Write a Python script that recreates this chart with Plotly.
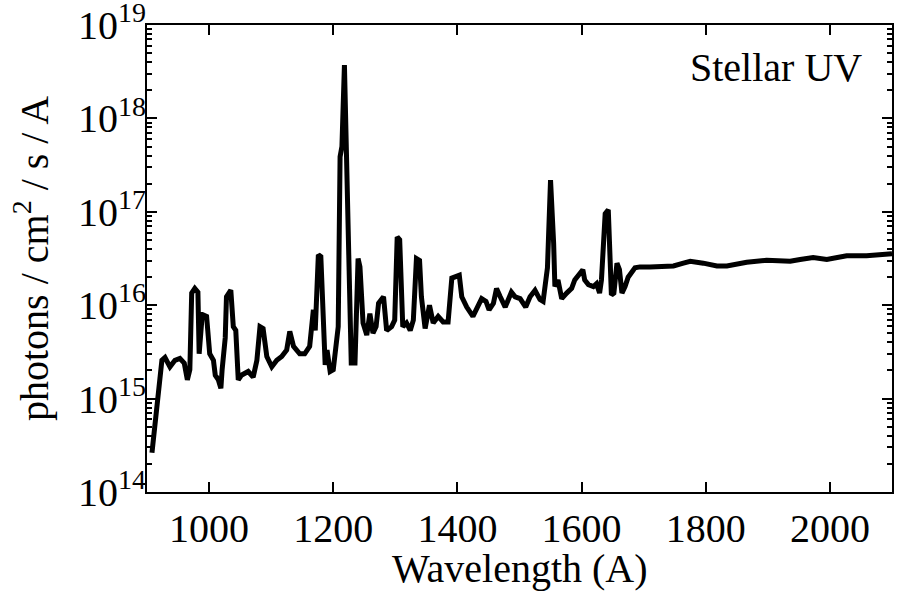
import plotly.graph_objects as go

wavelength = [908, 918, 924, 929, 937, 945, 953, 960, 965, 969, 972, 977, 982, 984, 989, 996,
              1001, 1007, 1010, 1015, 1019, 1021, 1026, 1028, 1035, 1039, 1043, 1047, 1052, 1063,
              1071, 1077, 1082, 1087, 1093, 1101, 1109, 1117, 1125, 1130, 1136, 1146, 1154, 1162,
              1168, 1171, 1176, 1180, 1184, 1187, 1190, 1195, 1200, 1204, 1208, 1211, 1214, 1218,
              1221, 1226, 1229, 1235, 1238, 1240, 1243, 1248, 1254, 1259, 1264, 1269, 1273, 1281,
              1286, 1294, 1299, 1303, 1307, 1312, 1318, 1324, 1329, 1334, 1339, 1342, 1348, 1355,
              1361, 1369, 1377, 1385, 1391, 1399, 1403, 1407, 1415, 1425, 1431, 1439, 1446, 1451,
              1458, 1463, 1469, 1477, 1487, 1493, 1501, 1510, 1517, 1525, 1533, 1538, 1545, 1550,
              1555, 1557, 1562, 1568, 1576, 1584, 1589, 1596, 1602, 1605, 1611, 1619, 1624, 1629,
              1632, 1638, 1643, 1646, 1648, 1652, 1657, 1661, 1665, 1670, 1675, 1686, 1694, 1710,
              1726, 1748, 1764, 1775, 1796, 1818, 1834, 1866, 1898, 1936, 1952, 1973, 1995, 2027,
              2059, 2092, 2100]
log_flux = [14.42, 15.02, 15.41, 15.44, 15.34, 15.41, 15.43, 15.38, 15.20, 15.31, 16.13, 16.18,
            16.14, 15.48, 15.90, 15.88, 15.48, 15.41, 15.25, 15.20, 15.11, 15.31, 15.65, 16.09,
            16.16, 15.77, 15.73, 15.20, 15.25, 15.29, 15.23, 15.41, 15.77, 15.75, 15.45, 15.34,
            15.41, 15.45, 15.52, 15.72, 15.56, 15.48, 15.48, 15.56, 15.95, 15.73, 16.54, 16.52,
            15.59, 15.36, 15.52, 15.29, 15.31, 15.52, 15.77, 17.59, 17.70, 18.57, 17.66, 15.88,
            15.38, 15.38, 15.88, 16.50, 16.41, 15.81, 15.68, 15.91, 15.70, 15.77, 16.02, 16.09,
            15.73, 15.77, 15.84, 16.73, 16.70, 15.77, 15.81, 15.73, 15.84, 16.50, 16.48, 16.09,
            15.75, 16.00, 15.81, 15.88, 15.82, 15.82, 16.29, 16.32, 16.32, 16.09, 15.98, 15.88,
            15.95, 16.07, 16.04, 15.95, 16.02, 16.18, 16.09, 15.98, 16.14, 16.09, 16.07, 15.98,
            16.09, 16.16, 16.06, 16.04, 16.40, 17.34, 16.66, 16.20, 16.27, 16.07, 16.13, 16.18,
            16.27, 16.32, 16.38, 16.27, 16.22, 16.20, 16.23, 16.13, 16.27, 16.98, 17.02, 16.48,
            16.11, 16.13, 16.45, 16.38, 16.13, 16.20, 16.30, 16.40, 16.41, 16.41, 16.41, 16.42,
            16.45, 16.47, 16.45, 16.42, 16.42, 16.46, 16.48, 16.47, 16.49, 16.51, 16.49, 16.53,
            16.53, 16.55, 16.55]
flux = [10 ** v for v in log_flux]

x_ticks = [1000, 1200, 1400, 1600, 1800, 2000]
y_exponents = [14, 15, 16, 17, 18, 19]

FONT = "Liberation Serif"
FS = 40

fig = go.Figure()
fig.add_trace(go.Scatter(x=wavelength, y=flux, mode="lines",
                         line=dict(color="black", width=5), showlegend=False))

fig.update_layout(
    width=902, height=591,
    margin=dict(l=147, r=10, t=25, b=99),
    plot_bgcolor="white", paper_bgcolor="white",
    font=dict(family=FONT, size=FS, color="black"),
    annotations=[
        dict(text="Stellar UV", xref="paper", yref="paper", x=0.962, y=0.908,
             xanchor="right", yanchor="middle", showarrow=False,
             font=dict(family=FONT, size=FS, color="black")),
        dict(text="Wavelength (A)", xref="paper", yref="paper", x=0.5, y=-0.163,
             xanchor="center", yanchor="middle", showarrow=False,
             font=dict(family=FONT, size=FS, color="black")),
        dict(text="photons / cm<sup>2</sup> / s / A", xref="paper", yref="paper",
             x=-0.155, y=0.5, xanchor="center", yanchor="middle", textangle=-90,
             showarrow=False, font=dict(family=FONT, size=FS, color="black")),
    ],
)
fig.update_xaxes(
    range=[900, 2100], tickvals=x_ticks, ticktext=[str(v) for v in x_ticks],
    ticks="inside", ticklen=10, tickwidth=1.5, tickcolor="black",
    showline=True, linewidth=2, linecolor="black", mirror="ticks",
    showgrid=False, zeroline=False, ticklabelstandoff=0, automargin=False,
    tickfont=dict(family=FONT, size=FS),
)
minor_vals = [k * 10 ** e for e in y_exponents[:-1] for k in range(2, 10)]
fig.update_yaxes(
    type="log", range=[13.9999, 19.0001],
    tickvals=[10 ** e for e in y_exponents],
    ticktext=["10<sup>%d</sup>" % e for e in y_exponents],
    ticks="inside", ticklen=10, tickwidth=1.5, tickcolor="black",
    minor=dict(tickvals=minor_vals, ticks="inside", ticklen=5, tickwidth=1.5,
               tickcolor="black", showgrid=False),
    showline=True, linewidth=2, linecolor="black", mirror="ticks",
    showgrid=False, zeroline=False, ticklabelstandoff=-9, ticklabeloverflow="allow",
    automargin=False, tickfont=dict(family=FONT, size=FS),
)

fig.write_html("out.html")
